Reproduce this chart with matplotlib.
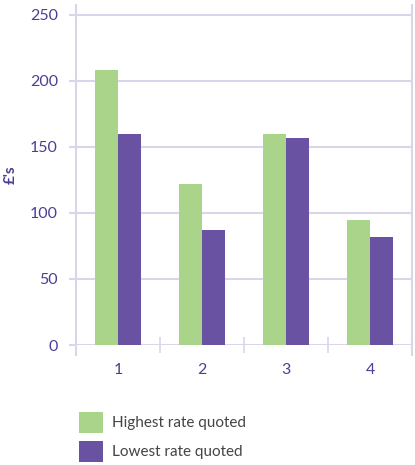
import matplotlib.pyplot as plt
import numpy as np

plt.rcParams['font.family'] = ['Lato', 'DejaVu Sans']

categories = ['1', '2', '3', '4']
highest = [208, 122, 160, 95]
lowest = [160, 87, 157, 82]
labels = ['Highest rate quoted', 'Lowest rate quoted']

green = '#aad48a'
purple = '#6a52a2'
text_purple = '#4e3d94'
grid_col = '#d9d5ea'

fig = plt.figure(figsize=(4.15, 4.65), dpi=100)
ax = fig.add_axes([76 / 415, 1 - 345 / 465, 336 / 415, 340 / 465])

x = np.arange(len(categories))
w = 0.274
b1 = ax.bar(x - w / 2, highest, w, color=green, label=labels[0], zorder=3)
b2 = ax.bar(x + w / 2, lowest, w, color=purple, label=labels[1], zorder=3)

ax.set_xlim(-0.5, 3.5)
ax.set_ylim(0, 257.5)
ax.set_yticks(range(0, 251, 50))
ax.grid(axis='y', color=grid_col, linewidth=1.5, zorder=0)
for s in ['top', 'bottom', 'left', 'right']:
    ax.spines[s].set_visible(False)

# axis lines (extend below zero like the reference)
ax.plot([-0.5, -0.5], [-7.5, 257.5], color=grid_col, lw=1.5, clip_on=False, zorder=1)
ax.plot([3.5, 3.5], [-7.5, 257.5], color=grid_col, lw=1.5, clip_on=False, zorder=1)

ax.tick_params(axis='y', length=5, width=1.5, color=grid_col, labelcolor=text_purple,
               labelsize=11.5, pad=8)
ax.set_xticks(x)
ax.set_xticklabels(categories)
ax.set_xticks(np.arange(-0.5, 3.6, 1), minor=True)
ax.tick_params(axis='x', which='major', length=0, labelcolor=text_purple, labelsize=11.5, pad=13)
ax.tick_params(axis='x', which='minor', direction='inout', length=12, width=1.2, color=grid_col)

ax.set_ylabel("£'s", color=text_purple, fontsize=11, fontweight='bold', labelpad=9)

fig.legend(handles=[b1, b2], loc='upper left', bbox_to_anchor=(73 / 415, 1 - 406 / 465),
           frameon=False, fontsize=11, handlelength=1.55, handleheight=1.7,
           labelspacing=0.55, handletextpad=0.6, labelcolor='#444444', borderaxespad=0)

fig.savefig('out.png', dpi=100)
